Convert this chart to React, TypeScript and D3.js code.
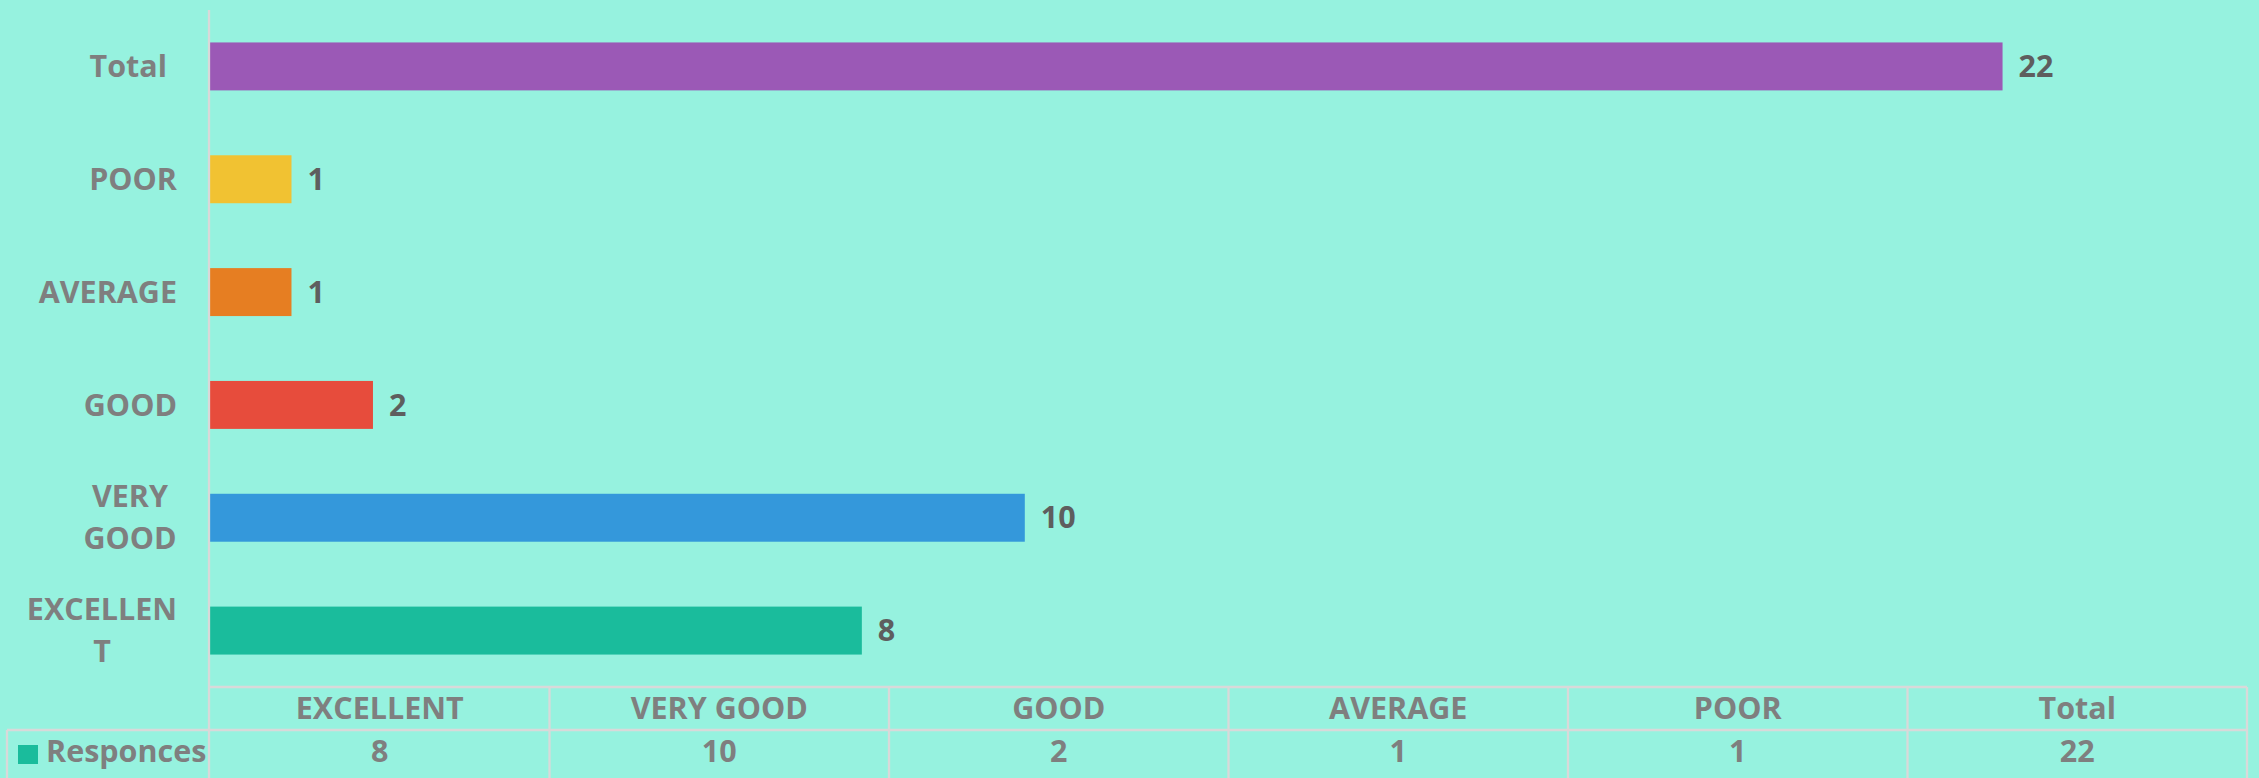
import * as d3 from 'd3';

// categories in data order (bottom to top on the chart)
const categories = ['EXCELLENT', 'VERY GOOD', 'GOOD', 'AVERAGE', 'POOR', 'Total'];
const responces = [8, 10, 2, 1, 1, 22];
const barColors = ['#1ABC9C', '#3498DB', '#E74C3C', '#E67E22', '#F1C232', '#9B59B6'];
// axis tick labels as Excel wrapped them
const tickLines = [['EXCELLEN', 'T'], ['VERY', 'GOOD'], ['GOOD'], ['AVERAGE'], ['POOR'], ['Total']];
const seriesName = 'Responces';

const W = 2259;
const H = 778;
const BG = '#96F2DF';
const GRID = '#D9D9D9';
const LABEL = '#7F7F7F';
const VALUE = '#5E5E5E';
const FONT = '"Open Sans", "Noto Sans", sans-serif';
const FS = 30.5;

export default function App() {
    const plotLeft = 210;
    const plotRight = 2247;
    const plotTop = 10;
    const plotBottom = 687;
    const rowMid = 730;
    const rowBottom = 773;
    const legendLeft = 7;

    const x = d3.scaleLinear().domain([0, 25]).range([plotLeft, plotRight]);
    // Total at the top, EXCELLENT at the bottom
    const y = d3.scaleBand<string>()
        .domain([...categories].reverse())
        .range([plotTop, plotBottom])
        .paddingInner(0.575)
        .paddingOuter(0.2875);

    const col = d3.scaleBand<string>()
        .domain(categories)
        .range([plotLeft, plotRight]);

    const labelRight = 177;
    const lineH = 42;

    return (
        <svg width={W} height={H} style={{ position: 'absolute', left: 0, top: 0, display: 'block' }}
            fontFamily={FONT} fontWeight={700}>
            <rect x={0} y={0} width={W} height={H} fill={BG} />

            {/* bars */}
            {categories.map((c, i) => (
                <rect key={c} x={x(0)} y={y(c)} width={x(responces[i]) - x(0)}
                    height={y.bandwidth()} fill={barColors[i]} />
            ))}

            {/* value labels */}
            {categories.map((c, i) => (
                <text key={c} x={x(responces[i]) + 16} y={(y(c) ?? 0) + y.bandwidth() / 2}
                    dy="0.35em" fontSize={FS} fill={VALUE}>{responces[i]}</text>
            ))}

            {/* category axis labels */}
            {categories.map((c, i) => {
                const lines = tickLines[i];
                const cy = (y(c) ?? 0) + y.bandwidth() / 2;
                const multi = lines.length > 1;
                const lw = multi ? 150 : 0;
                return (
                    <text key={c} fontSize={FS} fill={LABEL}
                        textAnchor={multi ? 'middle' : 'end'}>
                        {lines.map((l, j) => (
                            <tspan key={j} x={multi ? labelRight - lw / 2 + (c === 'VERY GOOD' ? 28 : 0) : labelRight - (c === 'Total' ? 10 : 0)}
                                y={cy + (j - (lines.length - 1) / 2) * lineH} dy="0.35em">{l}</tspan>
                        ))}
                    </text>
                );
            })}

            {/* axis line */}
            <line x1={plotLeft - 1} x2={plotLeft - 1} y1={plotTop} y2={H} stroke={GRID} strokeWidth={2.3} />

            {/* data table */}
            <g stroke={GRID} strokeWidth={2.3}>
                <line x1={plotLeft} x2={plotRight} y1={plotBottom} y2={plotBottom} />
                <line x1={legendLeft} x2={plotRight} y1={rowMid} y2={rowMid} />
                <line x1={legendLeft} x2={legendLeft} y1={rowMid} y2={H} />
                {categories.map(c => (
                    <line key={c} x1={(col(c) ?? 0) + col.bandwidth()} x2={(col(c) ?? 0) + col.bandwidth()}
                        y1={plotBottom} y2={H} />
                ))}
            </g>
            {categories.map((c, i) => (
                <g key={c} fontSize={FS} fill={LABEL} textAnchor="middle">
                    <text x={(col(c) ?? 0) + col.bandwidth() / 2} y={(plotBottom + rowMid) / 2} dy="0.35em">{c}</text>
                    <text x={(col(c) ?? 0) + col.bandwidth() / 2} y={(rowMid + rowBottom) / 2} dy="0.35em">{responces[i]}</text>
                </g>
            ))}

            {/* legend key */}
            <rect x={18} y={745} width={20} height={19} fill={barColors[0]} />
            <text x={46} y={(rowMid + rowBottom) / 2} dy="0.35em" fontSize={FS} fill={LABEL}>{seriesName}</text>
        </svg>
    );
}
